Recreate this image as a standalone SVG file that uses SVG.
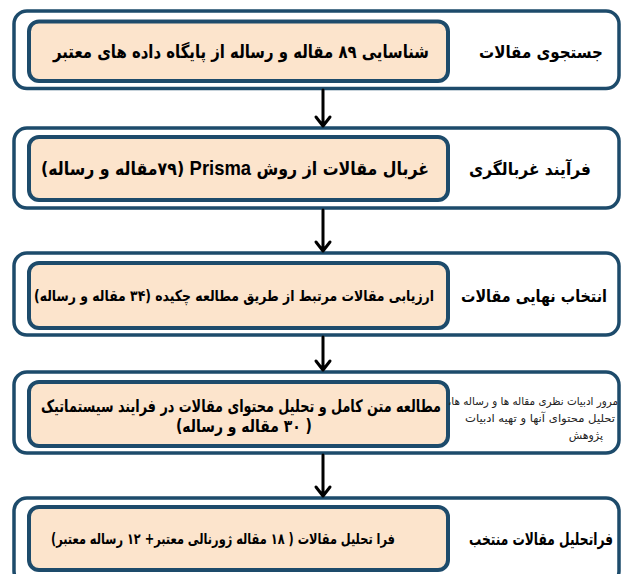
<svg xmlns="http://www.w3.org/2000/svg" width="621" height="574" viewBox="0 0 621 574">
<style>
.outer{fill:#ffffff;stroke:#1d4b6b;stroke-width:3.5}
.inner{fill:#fce4cc;stroke:#1d4b6b;stroke-width:4}
.t{font-family:"DejaVu Sans",sans-serif;font-weight:bold;fill:#000;direction:rtl;text-anchor:middle}
.lbl{font-family:"DejaVu Sans",sans-serif;font-weight:bold;fill:#000;direction:rtl;text-anchor:middle}
.side{font-family:"DejaVu Sans",sans-serif;fill:#222;direction:rtl;text-anchor:start;font-size:11px}
.arr{stroke:#000;stroke-width:3;fill:none;stroke-linecap:round;stroke-linejoin:round}
</style>
<rect width="621" height="574" fill="#ffffff"/>
<g id="step1">
<rect class="outer" x="14" y="11" width="605" height="77.5" rx="13"/>
<rect class="inner" x="29" y="21.5" width="419" height="59.5" rx="10"/>
<text class="t" x="241" y="58" font-size="18" textLength="376" lengthAdjust="spacingAndGlyphs">شناسایی ۸۹ مقاله و رساله از پایگاه داده های معتبر</text>
<text class="lbl" x="541" y="58" font-size="17" textLength="124" lengthAdjust="spacingAndGlyphs">جستجوی مقالات</text>
</g>
<g id="step2">
<rect class="outer" x="14" y="128" width="605" height="80" rx="13"/>
<rect class="inner" x="29" y="137" width="419" height="63" rx="10"/>
<text class="t" x="235" y="175" font-size="18" textLength="388" lengthAdjust="spacingAndGlyphs">غربال مقالات از روش <tspan font-family="Liberation Sans, Arial, sans-serif" font-size="21">Prisma</tspan> (۷۹مقاله و رساله)</text>
<text class="lbl" x="530" y="175" font-size="17" textLength="122" lengthAdjust="spacingAndGlyphs">فرآیند غربالگری</text>
</g>
<g id="step3">
<rect class="outer" x="14" y="253" width="605" height="82" rx="13"/>
<rect class="inner" x="29" y="263" width="419" height="65" rx="10"/>
<text class="t" x="234" y="301" font-size="15" textLength="400" lengthAdjust="spacingAndGlyphs">ارزیابی مقالات مرتبط از طریق مطالعه چکیده (۳۴ مقاله و رساله)</text>
<text class="lbl" x="534" y="302" font-size="17" textLength="146" lengthAdjust="spacingAndGlyphs">انتخاب نهایی مقالات</text>
</g>
<g id="step4">
<rect class="outer" x="14" y="372" width="605" height="81" rx="13"/>
<rect class="inner" x="29" y="382" width="419" height="64" rx="10"/>
<text class="t" x="241" y="412" font-size="17" textLength="400" lengthAdjust="spacingAndGlyphs">مطالعه متن کامل و تحلیل محتوای مقالات در فرایند سیستماتیک</text>
<text class="t" x="244" y="432" font-size="17" textLength="136" lengthAdjust="spacingAndGlyphs">( ۳۰ مقاله و رساله)</text>
<text class="side" x="618" y="405" textLength="170" lengthAdjust="spacingAndGlyphs">مرور ادبیات نظری مقاله ها و رساله ها،</text>
<text class="side" x="615" y="422" textLength="150" lengthAdjust="spacingAndGlyphs">تحلیل محتوای آنها و تهیه ادبیات</text>
<text class="side" x="603" y="439">پژوهش</text>
</g>
<g id="step5">
<rect class="outer" x="14" y="498" width="605" height="86" rx="13"/>
<rect class="inner" x="29" y="507" width="419" height="63" rx="10"/>
<text class="t" x="223" y="544" font-size="15" textLength="344" lengthAdjust="spacingAndGlyphs">فرا تحلیل مقالات ( ۱۸ مقاله ژورنالی معتبر+ ۱۲ رساله معتبر)</text>
<text class="lbl" x="541" y="545" font-size="17" textLength="144" lengthAdjust="spacingAndGlyphs">فراتحلیل مقالات منتخب</text>
</g>
<g id="connectors">
<path class="arr" d="M323 90 V126 M316 117 L323 126 L330 117"/>
<path class="arr" d="M323 210 V251 M316 242 L323 251 L330 242"/>
<path class="arr" d="M323 337 V370 M316 361 L323 370 L330 361"/>
<path class="arr" d="M323 455 V496 M316 487 L323 496 L330 487"/>
</g>
</svg>
